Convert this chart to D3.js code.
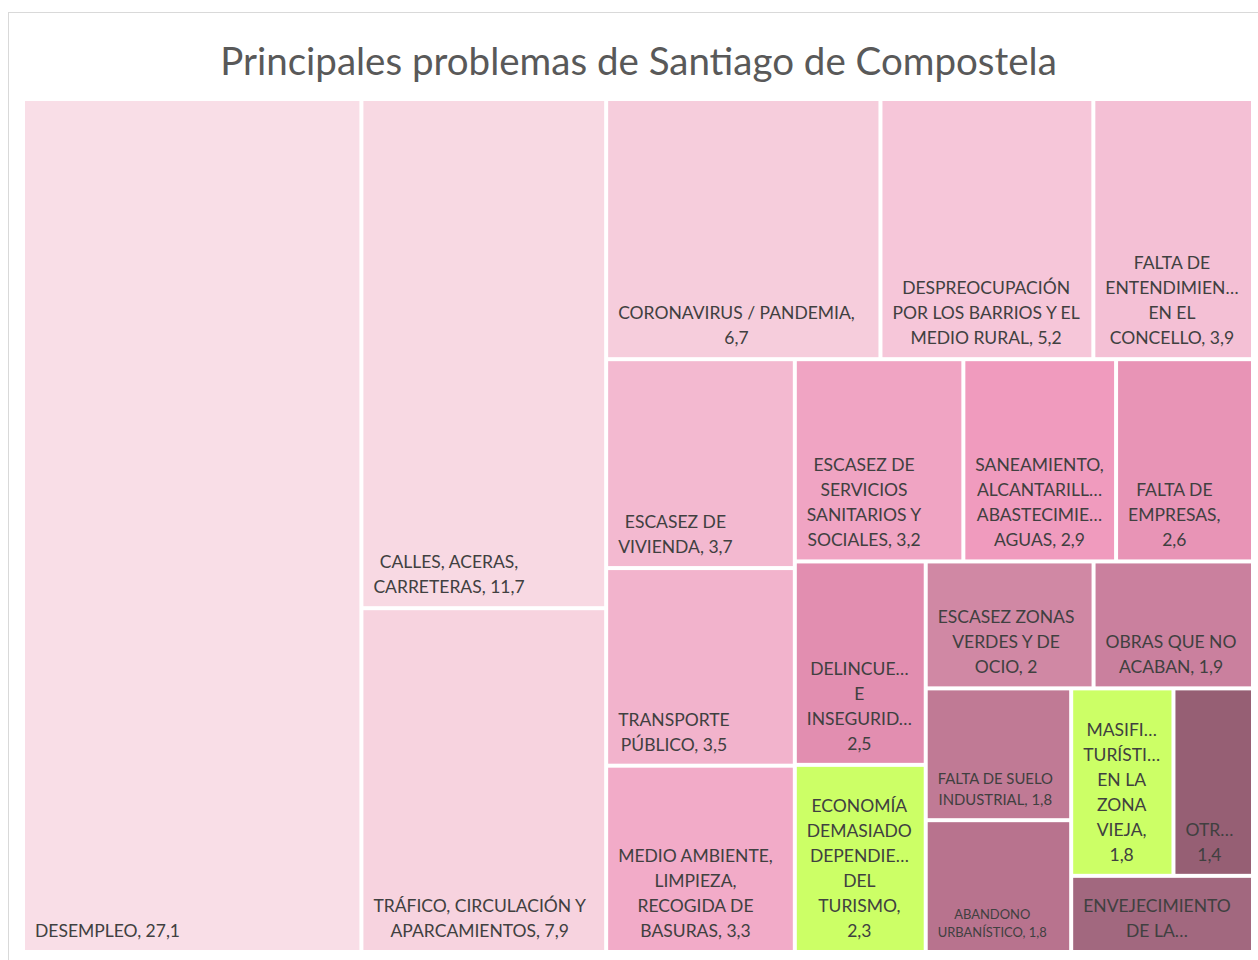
<!DOCTYPE html>
<html><head><meta charset="utf-8">
<script src="https://cdn.jsdelivr.net/npm/d3@7"></script>
<style>body{margin:0;background:#fff} text{font-family:Lato, "Open Sans", sans-serif}</style>
</head><body><svg id="chart" width="1258" height="960"></svg>
<script>
const title = "Principales problemas de Santiago de Compostela";
const categories = [
  "DESEMPLEO",
  "CALLES, ACERAS, CARRETERAS",
  "TRÁFICO, CIRCULACIÓN Y APARCAMIENTOS",
  "CORONAVIRUS / PANDEMIA",
  "DESPREOCUPACIÓN POR LOS BARRIOS Y EL MEDIO RURAL",
  "FALTA DE ENTENDIMIENTO EN EL CONCELLO",
  "ESCASEZ DE VIVIENDA",
  "TRANSPORTE PÚBLICO",
  "MEDIO AMBIENTE, LIMPIEZA, RECOGIDA DE BASURAS",
  "ESCASEZ DE SERVICIOS SANITARIOS Y SOCIALES",
  "SANEAMIENTO, ALCANTARILLADO, ABASTECIMIENTO AGUAS",
  "FALTA DE EMPRESAS",
  "DELINCUENCIA E INSEGURIDAD",
  "ECONOMÍA DEMASIADO DEPENDIENTE DEL TURISMO",
  "ESCASEZ ZONAS VERDES Y DE OCIO",
  "OBRAS QUE NO ACABAN",
  "FALTA DE SUELO INDUSTRIAL",
  "ABANDONO URBANÍSTICO",
  "MASIFICACIÓN TURÍSTICA EN LA ZONA VIEJA",
  "OTROS",
  "ENVEJECIMIENTO DE LA POBLACIÓN"
];
const values = [27.1, 11.7, 7.9, 6.7, 5.2, 3.9, 3.7, 3.5, 3.3, 3.2, 2.9, 2.6, 2.5, 2.3, 2, 1.9, 1.8, 1.8, 1.8, 1.4, 1.3];
const colors = [
  "#f9dee7", "#f8d9e3", "#f7d3df", "#f6cddc", "#f6c6d9", "#f4c0d5",
  "#f3b9d0", "#f2b3cc", "#f2abc8", "#f0a4c3", "#f09bbe", "#e894b6",
  "#e28eb0", "#ccff66", "#d088a4", "#ca809e", "#c07a95", "#b8738e",
  "#ccff66", "#965f74", "#a2687f"
];
// number of tiles in each successive strip of the layout
const stripSizes = [1, 2, 3, 3, 3, 2, 2, 2, 2, 1];
const labelScale = {"FALTA DE SUELO INDUSTRIAL": 0.85, "ABANDONO URBANÍSTICO": 0.74};

const plot = {x: 25, y: 101, w: 1226, h: 849};
const svg = d3.select("#chart");

svg.append("rect").attr("x", 8.5).attr("y", 12.5).attr("width", 1262).attr("height", 960)
  .attr("fill", "#fff").attr("stroke", "#d9d9d9").attr("stroke-width", 1);

svg.append("text").attr("x", 638.5).attr("y", 75).attr("text-anchor", "middle")
  .attr("font-size", 38.5).attr("fill", "#595959").text(title);

function build(start, s) {
  const n = stripSizes[s];
  const strip = {isStrip: true, children: d3.range(start, start + n).map(i => ({name: categories[i], value: values[i], idx: i}))};
  if (s + 1 >= stripSizes.length) return strip;
  return {children: [strip, build(start + n, s + 1)]};
}
const root = d3.hierarchy(build(0, 0)).sum(d => d.value || 0);

function tile(node, x0, y0, x1, y1) {
  let wide;
  if (node.data.isStrip && node.parent) {
    const p = node.parent;
    wide = !((p.x1 - p.x0) >= (p.y1 - p.y0));
  } else {
    wide = (x1 - x0) >= (y1 - y0);
  }
  (wide ? d3.treemapDice : d3.treemapSlice)(node, x0, y0, x1, y1);
}

d3.treemap().tile(tile).size([plot.w, plot.h]).paddingInner(4).round(false)(root);

const g = svg.append("g").attr("transform", `translate(${plot.x},${plot.y})`);
const leaves = root.leaves();

g.selectAll("rect.cell").data(leaves).join("rect").attr("class", "cell")
  .attr("x", d => d.x0).attr("y", d => d.y0)
  .attr("width", d => d.x1 - d.x0).attr("height", d => d.y1 - d.y0)
  .attr("fill", d => colors[d.data.idx]);

const meas = svg.append("text").attr("x", -1000).attr("y", -1000);
function measure(str, size) { meas.attr("font-size", size).text(str); return meas.node().getComputedTextLength(); }
function truncate(word, size, avail) {
  let k = word.length;
  while (k > 1 && measure(word.slice(0, k) + "…", size) > avail) k--;
  return word.slice(0, k) + "…";
}
const fmt = v => String(v).replace(".", ",");
const baseSize = 17.5, pad = 10, bottomPad = 13;

leaves.forEach(d => {
  const sc = labelScale[d.data.name] || 1;
  const size = baseSize * sc;
  const lineH = 25 * sc;
  const w = d.x1 - d.x0, h = d.y1 - d.y0;
  const avail = 1.05 * w - 26.5;
  const words = (d.data.name + ", " + fmt(d.data.value)).split(" ");
  const lines = [];
  let cur = "";
  words.forEach(word => {
    const test = cur ? cur + " " + word : word;
    if (measure(test, size) <= avail) { cur = test; return; }
    if (cur) lines.push(cur);
    if (measure(word, size) > avail) { lines.push(truncate(word, size, avail + 2.5)); cur = ""; }
    else cur = word;
  });
  if (cur) lines.push(cur);
  const maxLines = Math.max(1, Math.floor((h - 8) / lineH));
  let shown = lines;
  if (lines.length > maxLines) {
    shown = lines.slice(0, maxLines);
    let last = shown[maxLines - 1].replace(/…$/, "");
    while (measure(last + "…", size) > avail && last.includes(" ")) last = last.slice(0, last.lastIndexOf(" "));
    shown[maxLines - 1] = last + "…";
  }
  const blockW = d3.max(shown, l => measure(l, size));
  const cx = d.x0 + pad + blockW / 2;
  const lastBase = d.y1 - bottomPad;
  const t = g.append("text").attr("font-size", size).attr("fill", "#404040").attr("text-anchor", "middle");
  shown.forEach((l, i) => {
    t.append("tspan").attr("x", cx).attr("y", lastBase - (shown.length - 1 - i) * lineH).text(l);
  });
});
meas.remove();
</script></body></html>
